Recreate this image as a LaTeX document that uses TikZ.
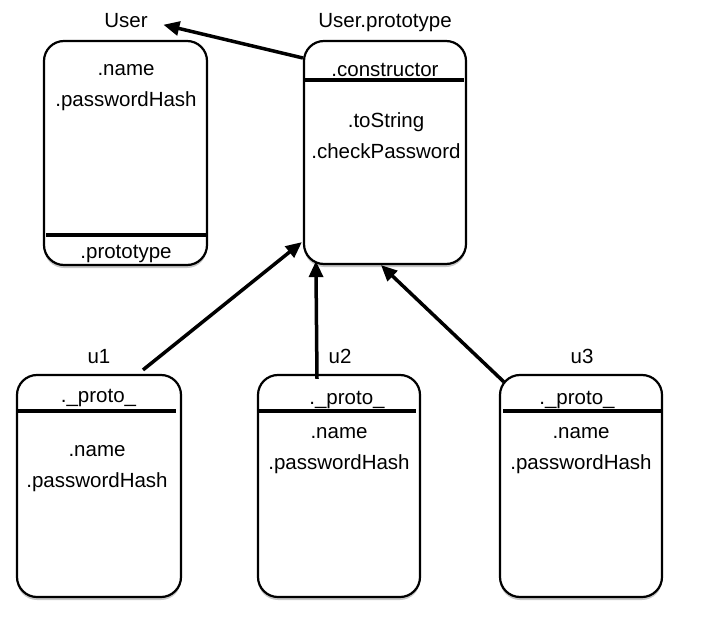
\documentclass[tikz,border=0pt]{standalone}
\usepackage{fontspec}
\setmainfont{Liberation Sans}
\usetikzlibrary{arrows.meta,calc,shadows}
\begin{document}
\begin{tikzpicture}[x=1bp,y=-1bp,
  objbox/.style={draw=black,line width=2.2bp,rounded corners=20bp,fill=white,
    drop shadow={shadow xshift=0bp,shadow yshift=-3bp,opacity=0.22,fill=black}},
  sepline/.style={line width=3.2bp},
  lbl/.style={font=\fontsize{20.5bp}{24bp}\selectfont,inner sep=0pt,anchor=base},
  arr/.style={line width=3.5bp,-{Triangle[length=16bp,width=14bp]}}]
\useasboundingbox (0,0) rectangle (714,628);
% boxes
\node[objbox,minimum width=163bp,minimum height=224bp] (user) at (125.5,153) {};
\node[objbox,minimum width=162bp,minimum height=223bp] (proto) at (385,152.5) {};
\node[objbox,minimum width=164bp,minimum height=222bp] (u1) at (99,486) {};
\node[objbox,minimum width=162bp,minimum height=222bp] (u2) at (339,486) {};
\node[objbox,minimum width=162bp,minimum height=222bp] (u3) at (581,486) {};
% separators
\draw[sepline] (46,235) -- (206,235);
\draw[sepline] (305,80) -- (464,80);
\draw[sepline] (16,411) -- (176,411);
\draw[sepline] (257,411) -- (416,411);
\draw[sepline] (503,411) -- (661,411);
% labels
\node[lbl] (userlbl) at (126,28) {User};
\node[lbl] (protolbl) at (385,28) {User.prototype};
\node[lbl] (u1lbl) at (99,363) {u1};
\node[lbl] (u2lbl) at (340,363) {u2};
\node[lbl] (u3lbl) at (582,363) {u3};
% User fields
\node[lbl] (un) at (126,76) {.name};
\node[lbl] (up) at (126,107) {.passwordHash};
\node[lbl] (upr) at (126,258) {.prototype};
% prototype fields
\node[lbl] (pc) at (385,77) {.constructor};
\node[lbl] (pt) at (386,128) {.toString};
\node[lbl] (pcp) at (386,159) {.checkPassword};
% u1
\node[lbl] (u1p) at (98.5,402) {.\_proto\_};
\node[lbl] (u1n) at (97,456) {.name};
\node[lbl] (u1h) at (97,487) {.passwordHash};
% u2
\node[lbl] (u2p) at (347,404) {.\_proto\_};
\node[lbl] (u2n) at (339,438) {.name};
\node[lbl] (u2h) at (339,469) {.passwordHash};
% u3
\node[lbl] (u3p) at (577,404) {.\_proto\_};
\node[lbl] (u3n) at (581,438) {.name};
\node[lbl] (u3h) at (581,469) {.passwordHash};
% arrows
\draw[arr,shorten >=16bp] (proto.west |- 0,58) -- (userlbl.east);
\draw[arr] ($(u1.north)+(44,-4)$) -- ($(proto.south west)+(-1,-23)$);
\draw[arr] ($(u2.north)+(-22,5)$) -- ($(proto.south west)+(13,-4)$);
\draw[arr] ($(u3.north west)+(5,8)$) -- ($(proto.south)+(-4,0)$);
\end{tikzpicture}
\end{document}
